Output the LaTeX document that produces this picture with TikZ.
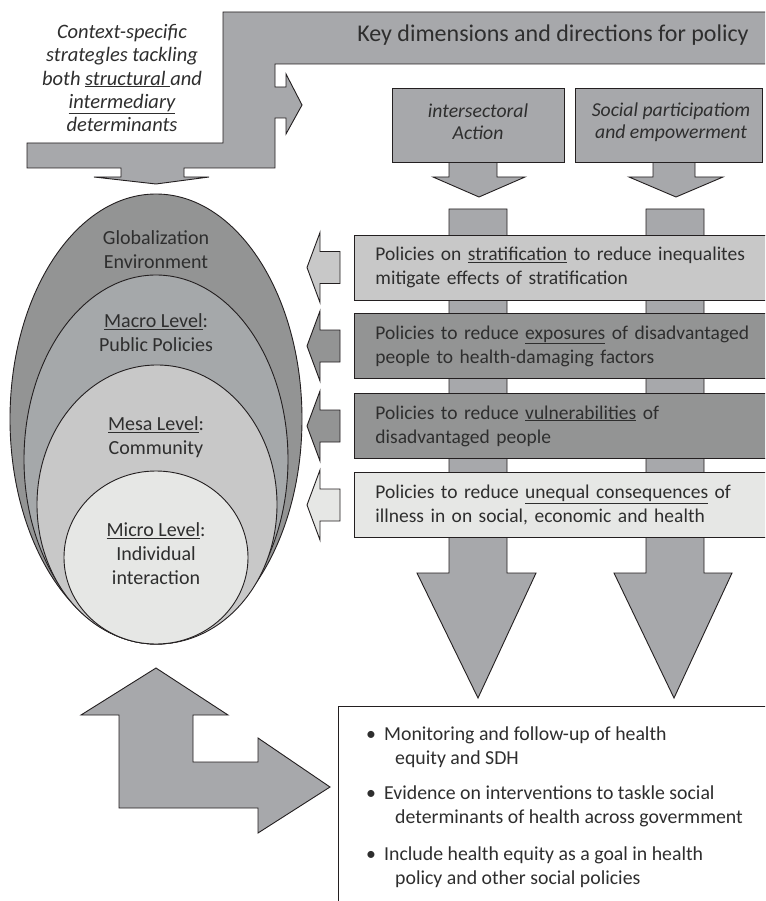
\documentclass[tikz,border=0pt]{standalone}
\usepackage{fontspec}
\setmainfont{Carlito}
\newcommand\mynolsk{\lineskiplimit=-20pt\relax}
\definecolor{lnc}{HTML}{231F20}
\definecolor{txc}{HTML}{2E2E2E}
\definecolor{gmid}{HTML}{A7A8AB}
\definecolor{gdark}{HTML}{939494}
\definecolor{glight}{HTML}{C8C8C8}
\definecolor{gpale}{HTML}{E6E7E5}
\definecolor{gmacro}{HTML}{A5A8AA}
\tikzset{
  shp/.style={draw=lnc, line width=0.9pt, line join=miter},
  pbox/.style={shp, rectangle, anchor=west, minimum height=65pt, minimum width=421pt,
     text width=379pt, inner xsep=21pt, align=left, text=txc,
     font=\fontsize{19.5}{24}\selectfont\mynolsk},
  ebox/.style={text=txc, align=center, font=\fontsize{20}{24}\selectfont\mynolsk},
  ibox/.style={shp, rectangle, fill=gmid},
  itext/.style={text=txc, align=center, font=\fontsize{19.7}{22}\selectfont\itshape},
  btext/.style={anchor=west, align=left, text=txc, inner sep=0pt,
     font=\fontsize{19.8}{24}\selectfont},
}
\begin{document}
\begin{tikzpicture}[x=1pt,y=-1pt]
\useasboundingbox (0,0) rectangle (765,901);
\clip (0,0) rectangle (765,901);
\fill[white] (0,0) rectangle (765,901);

% big L arrow with banner
\draw[shp, fill=gmid] (223,12) -- (780,12) -- (780,64) -- (275,64) -- (275,87) -- (286,87)
  -- (286,74) -- (302,105) -- (286,134) -- (286,118) -- (275,118) -- (275,168)
  -- (184,168) -- (184,177) -- (209,177) -- (156,184) -- (94,177) -- (121,177)
  -- (121,168) -- (27,168) -- (27,143) -- (223,143) -- cycle;
\node (banner) [text=txc, font=\fontsize{24}{28}\selectfont] at (553,35) {Key dimensions and directions for policy};
\node (context) [text=txc, align=center, font=\fontsize{20.5}{23.3}\selectfont\itshape\mynolsk] at (122,78)
  {Context-specific\\strategles tackling\\both \underline{structural }and\\\underline{intermediary}\\determinants};

% arrows below intersectoral / social boxes
\draw[shp, fill=gmid] (449,160) -- (449,177) -- (433,177) -- (479,197) -- (525,177) -- (497,177) -- (497,160) -- cycle;
\draw[shp, fill=gmid] (653,160) -- (653,177) -- (629,177) -- (676,197) -- (723,177) -- (695,177) -- (695,160) -- cycle;
\node (inter) [ibox, minimum width=172pt, minimum height=74pt] at (478,125) {};
\node (intert) [itext] at (478,122) {intersectoral\\Action};
\node (social) [ibox, minimum width=187pt, minimum height=74pt] at (669,125) {};
\node (socialt) [itext] at (671,122) {Social participatiom\\and empowerment};

% long vertical bars ending in big down arrows
\draw[shp, fill=gmid] (449,209) -- (449,573) -- (417,573) -- (478,698) -- (536,573) -- (507,573) -- (507,209) -- cycle;
\draw[shp, fill=gmid] (646,209) -- (646,573) -- (614,573) -- (674,698) -- (732,573) -- (704,573) -- (704,209) -- cycle;

% policy boxes
\node (p1) [pbox, fill=glight] at (354,267.5) {Policies on \underline{stratification} to reduce inequalites\\mitigate effects of stratification};
\node (p2) [pbox, fill=gdark] at (354,346) {Policies to reduce \underline{exposures} of disadvantaged\\people to health-damaging factors};
\node (p3) [pbox, fill=gdark] at (354,426) {Policies to reduce \underline{vulnerabilities} of\\disadvantaged people};
\node (p4) [pbox, fill=gpale] at (354,505) {Policies to reduce \underline{unequal consequences} of\\illness in on social, economic and health};

% left arrows
\foreach \cy/\col in {267.5/glight, 346/gdark, 426/gdark, 505/gpale}{
  \draw[shp, fill=\col] (340,\cy-16) -- (320,\cy-16) -- (320,\cy-35) -- (307,\cy)
    -- (320,\cy+35) -- (320,\cy+16) -- (340,\cy+16) -- cycle;
}

% nested ellipses
\draw[shp, fill=gdark] (156,419) ellipse [x radius=146, y radius=225];
\draw[shp, fill=gmacro] (156,459.5) ellipse [x radius=132, y radius=184.5];
\draw[shp, fill=glight] (157,504.5) ellipse [x radius=120, y radius=139.5];
\draw[shp, fill=gpale] (156,557.5) ellipse [x radius=92, y radius=86.5];
\node (glob) [ebox] at (156,249.5) {Globalization\\Environment};
\node (macro) [ebox] at (156,333) {\underline{Macro Level}:\\Public Policies};
\node (mesa) [ebox] at (156,437.5) {\underline{Mesa Level}:\\Community};
\node (micro) [ebox] at (156,553.5) {\underline{Micro Level}:\\Individual\\interaction};

% double arrow
\draw[shp, fill=gmid] (156,668) -- (228,715) -- (193,715) -- (193,762) -- (258,762)
  -- (258,738) -- (330,787) -- (258,833) -- (258,808) -- (119,808) -- (119,715)
  -- (81,715) -- cycle;

% bottom box
\draw[shp, fill=white] (338,706) rectangle (790,920);
\node (b1) [btext] at (366,747) {\makebox[18pt][l]{\textbullet}Monitoring and follow-up of health\\\hspace*{29pt}equity and SDH};
\node (b2) [btext] at (366,806) {\makebox[18pt][l]{\textbullet}Evidence on interventions to taskle social\\\hspace*{29pt}determinants of health across govermment};
\node (b3) [btext] at (366,867) {\makebox[18pt][l]{\textbullet}Include health equity as a goal in health\\\hspace*{29pt}policy and other social policies};
\end{tikzpicture}
\end{document}
